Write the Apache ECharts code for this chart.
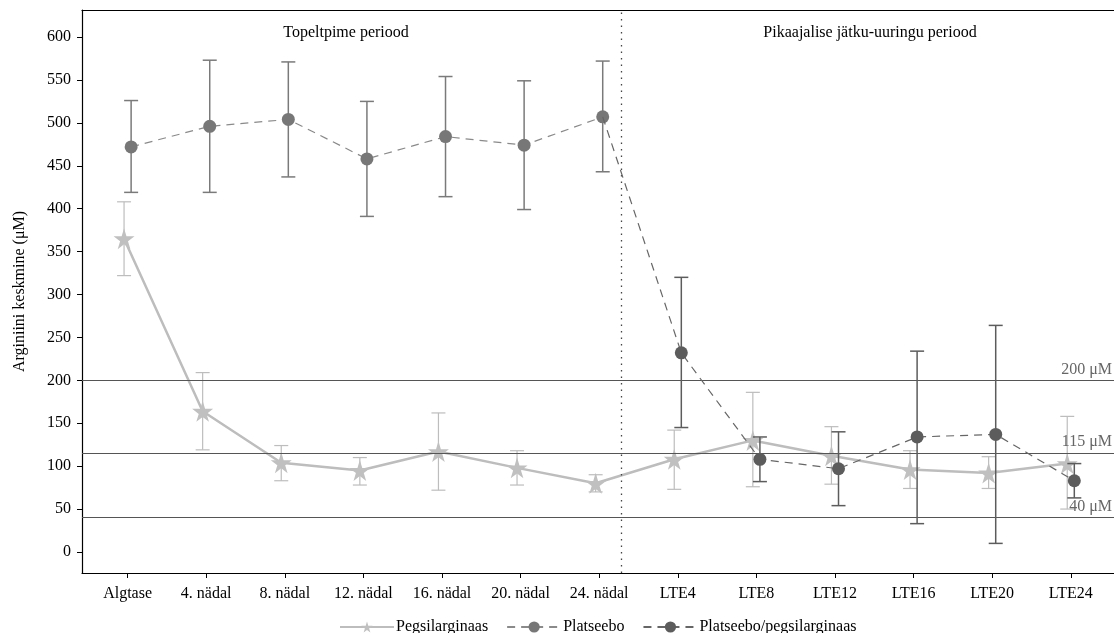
<!DOCTYPE html>
<html>
<head>
<meta charset="utf-8">
<script src="https://cdn.jsdelivr.net/npm/echarts@6/dist/echarts.min.js"></script>
<style>
  html, body { margin: 0; padding: 0; background: #fff; }
  #chart { width: 1114px; height: 633px; }
</style>
</head>
<body>
<div id="chart"></div>
<script>
const categories = ['Algtase', '4. nädal', '8. nädal', '12. nädal', '16. nädal', '20. nädal', '24. nädal',
  'LTE4', 'LTE8', 'LTE12', 'LTE16', 'LTE20', 'LTE24'];
const yTicks = [0, 50, 100, 150, 200, 250, 300, 350, 400, 450, 500, 550, 600];

// Pegsilarginaas (all 13 time points)
const pegMean = [365, 164, 104, 95, 117, 98, 80, 108, 130, 112, 96, 92, 103];
const pegLow  = [322, 119, 83, 78, 72, 78, 70, 73, 76, 79, 74, 74, 50];
const pegHigh = [408, 209, 124, 110, 162, 118, 90, 142, 186, 146, 118, 111, 158];

// Platseebo (double-blind period)
const placMean = [472, 496, 504, 458, 484, 474, 507];
const placLow  = [419, 419, 437, 391, 414, 399, 443];
const placHigh = [526, 573, 571, 525, 554, 549, 572];

// Platseebo/pegsilarginaas (extension period LTE4..LTE24)
const switchMean = [232, 108, 97, 134, 137, 83];
const switchLow  = [145, 82, 54, 33, 10, 63];
const switchHigh = [320, 134, 140, 234, 264, 103];

const refLevels = [200, 115, 40];
const periodSplit = 6.28;

const STAR = 'path://M50,0 L61,35 L98,35 L68,57 L79,91 L50,70 L21,91 L32,57 L2,35 L39,35 Z';
const FONT = 'Liberation Serif';
const FS = 16;
const pegOff = -0.045, circOff = 0.045;

function errorBars(xs, lo, hi, color, width, z) {
  return {
    type: 'custom',
    silent: true,
    z: z,
    data: xs.map((x, i) => [x, lo[i], hi[i]]),
    encode: { x: 0, y: [1, 2] },
    renderItem: function (params, api) {
      const x = api.value(0);
      const top = api.coord([x, api.value(2)]);
      const bot = api.coord([x, api.value(1)]);
      const w = 7;
      const st = { stroke: color, lineWidth: width };
      return {
        type: 'group',
        children: [
          { type: 'line', shape: { x1: top[0], y1: top[1], x2: bot[0], y2: bot[1] }, style: st },
          { type: 'line', shape: { x1: top[0] - w, y1: top[1], x2: top[0] + w, y2: top[1] }, style: st },
          { type: 'line', shape: { x1: bot[0] - w, y1: bot[1], x2: bot[0] + w, y2: bot[1] }, style: st }
        ]
      };
    }
  };
}

const pegX = pegMean.map((v, i) => i + pegOff);
const placX = placMean.map((v, i) => i + circOff);
const switchX = switchMean.map((v, i) => i + 7 + circOff);

const switchData = [{ value: [6 + circOff, placMean[6]], symbol: 'none' }]
  .concat(switchMean.map((v, i) => [switchX[i], v]));

const option = {
  animation: false,
  textStyle: { fontFamily: FONT },
  grid: { left: 82, right: 0, top: 10, bottom: 60 },
  legend: {
    top: 614,
    left: 334,
    itemWidth: 54,
    itemHeight: 14,
    itemGap: 18,
    textStyle: { fontFamily: FONT, fontSize: FS, color: '#000', padding: [0, 0, 0, -3] },
    data: ['Pegsilarginaas', 'Platseebo', 'Platseebo/pegsilarginaas']
  },
  xAxis: [{
    type: 'value',
    min: -0.58,
    max: 12.55,
    splitLine: { show: false },
    axisLine: { onZero: false, lineStyle: { color: '#000', width: 1.2 } },
    axisTick: { customValues: categories.map((c, i) => i), length: 5, lineStyle: { color: '#000' } },
    axisLabel: {
      customValues: categories.map((c, i) => i),
      formatter: v => categories[Math.round(v)],
      fontFamily: FONT, fontSize: FS, color: '#000', margin: 13
    }
  }, {
    type: 'value',
    position: 'top',
    min: -0.58,
    max: 12.55,
    splitLine: { show: false },
    axisLine: { show: true, onZero: false, lineStyle: { color: '#000', width: 1.2 } },
    axisTick: { show: false },
    axisLabel: { show: false }
  }],
  yAxis: {
    type: 'value',
    min: -24.5,
    max: 631.5,
    name: 'Arginiini keskmine (μM)',
    nameLocation: 'middle',
    nameGap: 54,
    nameTextStyle: { fontFamily: FONT, fontSize: FS, color: '#000' },
    splitLine: { show: false },
    axisLine: { show: true, onZero: false, lineStyle: { color: '#000', width: 1.2 } },
    axisTick: { customValues: yTicks, length: 5, lineStyle: { color: '#000' } },
    axisLabel: { customValues: yTicks, fontFamily: FONT, fontSize: FS, color: '#000', margin: 11 }
  },
  series: [
    {
      type: 'line',
      name: '_ref',
      data: [],
      silent: true,
      markLine: {
        symbol: 'none',
        silent: true,
        animation: false,
        data: refLevels.map(v => ({
          yAxis: v,
          lineStyle: { color: '#555', width: 1.2, type: 'solid' },
          label: { formatter: v + ' μM', position: 'insideEndTop', distance: [2, 3],
            fontFamily: FONT, fontSize: FS, color: '#666' }
        })).concat([{
          xAxis: periodSplit,
          lineStyle: { color: '#444', width: 1.3, type: [1.5, 5] },
          label: { show: false }
        }])
      }
    },
    errorBars(pegX, pegLow, pegHigh, '#bdbdbd', 1.2, 2),
    {
      type: 'line',
      name: 'Pegsilarginaas',
      z: 3,
      data: pegMean.map((v, i) => [pegX[i], v]),
      symbol: STAR,
      symbolSize: 21,
      lineStyle: { color: '#bdbdbd', width: 2.5 },
      itemStyle: { color: '#c0c0c0' }
    },
    errorBars(placX, placLow, placHigh, '#7a7a7a', 1.5, 4),
    {
      type: 'line',
      name: 'Platseebo',
      z: 5,
      data: placMean.map((v, i) => [placX[i], v]),
      symbol: 'circle',
      symbolSize: 13,
      lineStyle: { color: '#8a8a8a', width: 1.2, type: [8, 6] },
      itemStyle: { color: '#777' }
    },
    errorBars(switchX, switchLow, switchHigh, '#5c5c5c', 1.5, 6),
    {
      type: 'line',
      name: 'Platseebo/pegsilarginaas',
      z: 7,
      data: switchData,
      symbol: 'circle',
      symbolSize: 13,
      lineStyle: { color: '#666', width: 1.2, type: [8, 6] },
      itemStyle: { color: '#5c5c5c' }
    }
  ],
  graphic: [
    { type: 'text', x: 346, y: 33, style: { text: 'Topeltpime periood', font: FS + 'px "Liberation Serif"',
      fill: '#000', align: 'center', verticalAlign: 'middle' } },
    { type: 'text', x: 870, y: 33, style: { text: 'Pikaajalise jätku-uuringu periood', font: FS + 'px "Liberation Serif"',
      fill: '#000', align: 'center', verticalAlign: 'middle' } }
  ]
};

const chart = echarts.init(document.getElementById('chart'), null, { renderer: 'canvas' });
chart.setOption(option);
</script>
</body>
</html>
